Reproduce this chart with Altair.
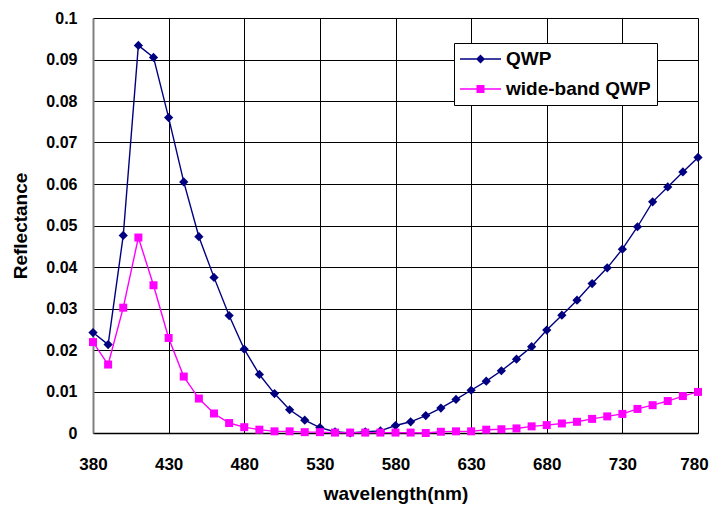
import altair as alt
import pandas as pd

wavelength = [380, 390, 400, 410, 420, 430, 440, 450, 460, 470,
              480, 490, 500, 510, 520, 530, 540, 550, 560, 570,
              580, 590, 600, 610, 620, 630, 640, 650, 660, 670,
              680, 690, 700, 710, 720, 730, 740, 750, 760, 770, 780]

qwp = [0.0242, 0.0213, 0.0476, 0.0934, 0.0905, 0.0760, 0.0605, 0.0473, 0.0375, 0.0283,
       0.0202, 0.0141, 0.0095, 0.0056, 0.0031, 0.0013, 0.0003, 0.0000, 0.0003, 0.0005,
       0.0018, 0.0027, 0.0042, 0.0060, 0.0081, 0.0103, 0.0125, 0.0150, 0.0178, 0.0208,
       0.0248, 0.0284, 0.0320, 0.0360, 0.0398, 0.0443, 0.0497, 0.0557, 0.0593, 0.0629, 0.0664]

wide_band_qwp = [0.0219, 0.0165, 0.0302, 0.0471, 0.0356, 0.0229, 0.0136, 0.0083, 0.0047, 0.0024,
                 0.0014, 0.0008, 0.0004, 0.0004, 0.0002, 0.0002, 0.0001, 0.0001, 0.0001, 0.0001,
                 0.0001, 0.0001, 0.0000, 0.0003, 0.0004, 0.0004, 0.0008, 0.0009, 0.0011, 0.0016,
                 0.0019, 0.0023, 0.0027, 0.0034, 0.0040, 0.0046, 0.0058, 0.0067, 0.0077, 0.0089, 0.0099]

series_names = ["QWP", "wide-band QWP"]
series_colors = ["#000080", "#FF00FF"]
x_ticks = [380, 430, 480, 530, 580, 630, 680, 730, 780]
y_ticks = [0, 0.01, 0.02, 0.03, 0.04, 0.05, 0.06, 0.07, 0.08, 0.09, 0.1]

df = pd.concat([
    pd.DataFrame({"wavelength": wavelength, "value": qwp, "series": series_names[0]}),
    pd.DataFrame({"wavelength": wavelength, "value": wide_band_qwp, "series": series_names[1]}),
])

FONT = "Liberation Sans"

x_enc = alt.X("wavelength:Q", scale=alt.Scale(domain=[380, 780], nice=False, zero=False),
              axis=alt.Axis(values=x_ticks, title="wavelength(nm)", grid=True, ticks=False,
                            gridColor="#000000", gridWidth=1, domainColor="#000000", domainWidth=1.5,
                            labelFont=FONT, labelFontSize=17, labelFontWeight="bold", labelColor="#000000",
                            labelPadding=23, titleFont=FONT, titleFontSize=19, titleFontWeight="bold",
                            titleColor="#000000", titlePadding=12, labelFlush=False,
                            labelOffset={"condition": {"test": "datum.value == 780", "value": -4}, "value": 0}))
y_enc = alt.Y("value:Q", scale=alt.Scale(domain=[0, 0.1], nice=False),
              axis=alt.Axis(values=y_ticks, format="~g", title="Reflectance", grid=True, ticks=False,
                            gridColor="#000000", gridWidth=1, domainColor="#808080", domainWidth=2,
                            labelFont=FONT, labelFontSize=16, labelFontWeight="bold", labelColor="#000000",
                            labelPadding=16, titleFont=FONT, titleFontSize=19, titleFontWeight="bold",
                            titleColor="#000000", titlePadding=15))

color_scale = alt.Scale(domain=series_names, range=series_colors)

base = alt.Chart(df)

lines = base.mark_line(strokeWidth=1.4).encode(
    x=x_enc, y=y_enc,
    color=alt.Color("series:N", scale=color_scale, legend=None),
    detail="series:N",
)

pts_qwp = base.transform_filter(alt.datum.series == series_names[0]).mark_point(
    shape="diamond", filled=True, size=85, opacity=1
).encode(x=x_enc, y=y_enc, color=alt.Color("series:N", scale=color_scale, legend=None))

pts_wb = base.transform_filter(alt.datum.series == series_names[1]).mark_point(
    shape="square", filled=True, size=64, opacity=1
).encode(x=x_enc, y=y_enc, color=alt.Color("series:N", scale=color_scale, legend=None))

path_qwp = "M-1,-0.07H3.1V0.07H-1Z M1.05,-0.45L1.5,0L1.05,0.45L0.6,0Z"
path_wb = "M-1,-0.07H3.1V0.07H-1Z M0.65,-0.4H1.45V0.4H0.65Z"

legend_def = alt.Legend(
    title=None, orient="none", legendX=361, legendY=25,
    fillColor="#FFFFFF", strokeColor="#000000", padding=6,
    labelFont=FONT, labelFontSize=19, labelFontWeight="bold", labelColor="#000000",
    labelOffset=26, rowPadding=10, symbolSize=400, symbolStrokeWidth=0, symbolOpacity=1,
    labelLimit=300,
)

legend_layer = base.transform_filter("false").mark_point(filled=True, opacity=1).encode(
    x=x_enc, y=y_enc,
    color=alt.Color("series:N", scale=color_scale, legend=legend_def),
    shape=alt.Shape("series:N", scale=alt.Scale(domain=series_names, range=[path_qwp, path_wb]),
                    legend=legend_def),
)

chart = alt.layer(lines, pts_qwp, pts_wb, legend_layer).resolve_scale(
    color="independent", shape="independent"
).properties(
    width=605, height=415,
    autosize=alt.AutoSizeParams(type="none"),
    padding={"left": 85, "top": 10, "right": 11, "bottom": 74},
).configure_view(stroke=None).configure(background="#FFFFFF")

chart.save("out.html", embed_options={"renderer": "svg", "actions": False})
